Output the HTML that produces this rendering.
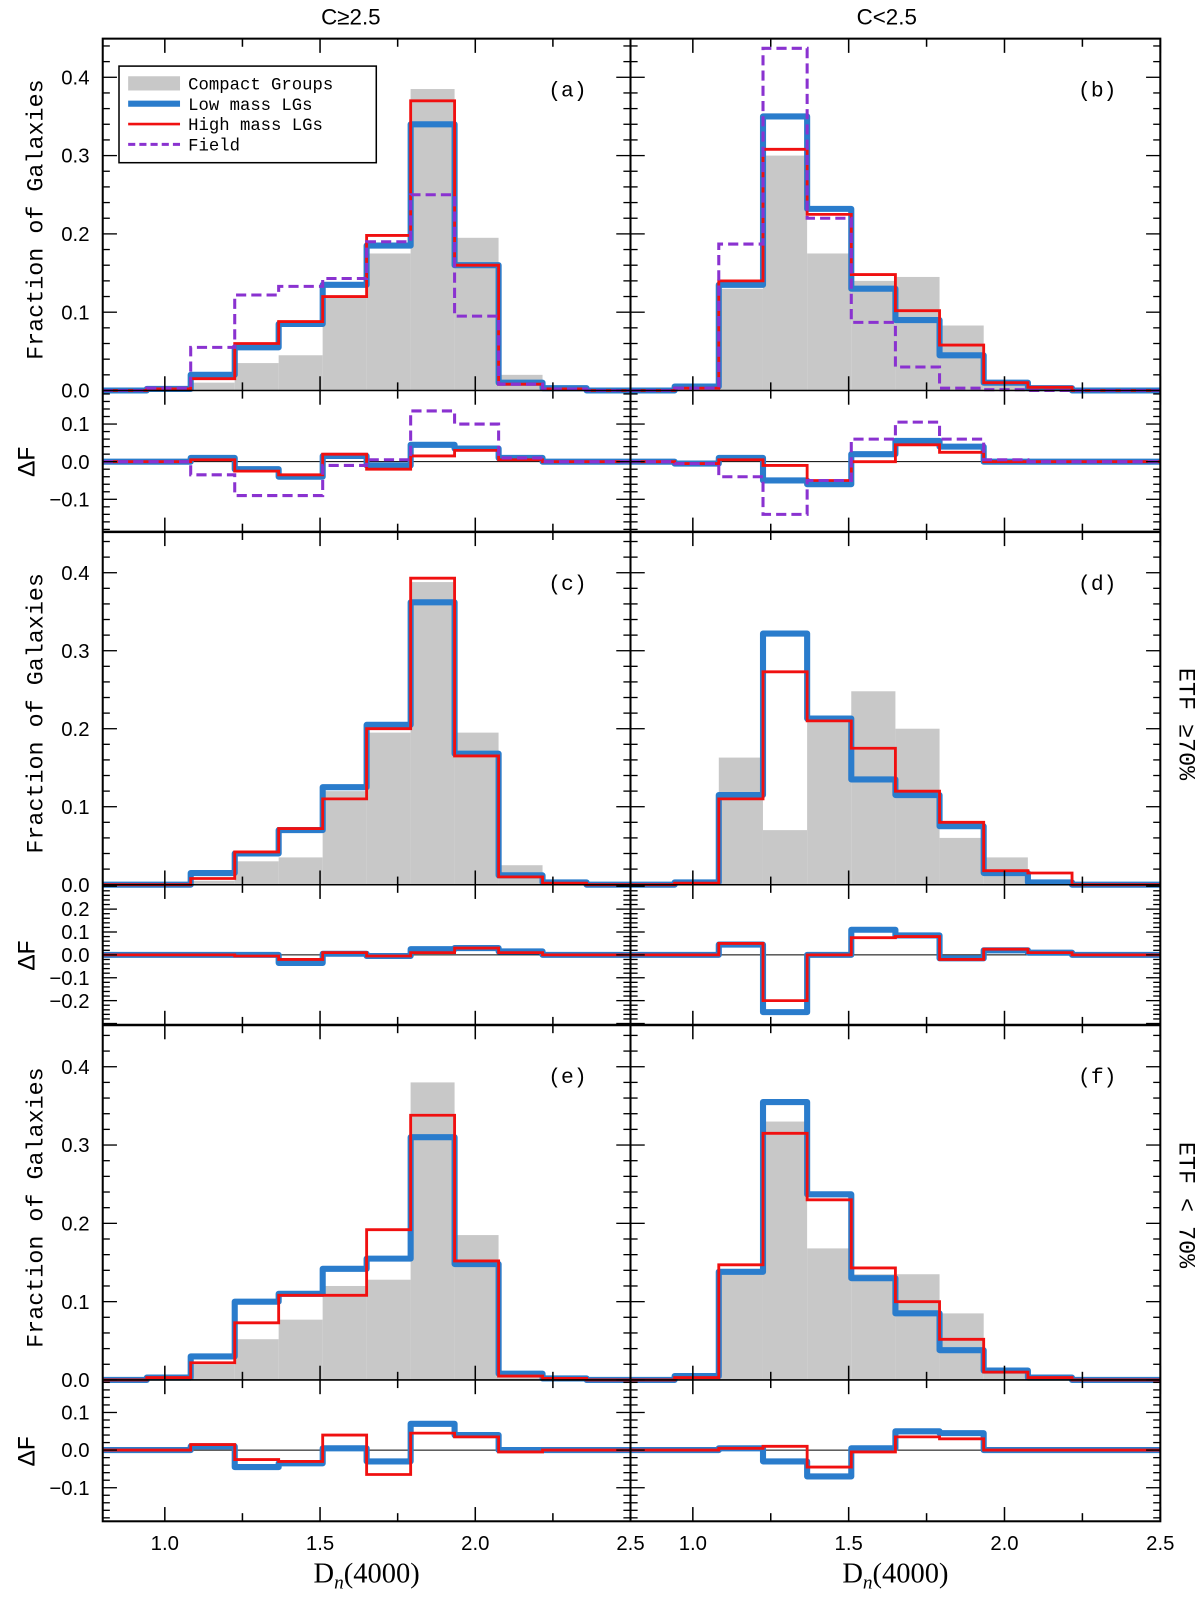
<!DOCTYPE html>
<html><head><meta charset="utf-8"><style>
body{margin:0;background:#fff}
svg text{font-family:"Liberation Sans","DejaVu Sans",sans-serif;fill:#000}
svg text.mono{font-family:"Liberation Mono","DejaVu Sans Mono",monospace}
svg text.serif{font-family:"Liberation Serif","DejaVu Serif",serif}
</style></head><body>
<svg id="fig" width="1200" height="1594" viewBox="0 0 1180 1567.5" xmlns="http://www.w3.org/2000/svg"></svg>
<script>
const binEdgesMin = 0.8, binEdgesMax = 2.5, nBins = 12;
// panel (a)
const aCG   = [0,0,0.01,0.035,0.045,0.12,0.175,0.385,0.195,0.02,0.003,0];
const aLow  = [0,0.002,0.02,0.055,0.085,0.135,0.185,0.34,0.16,0.01,0.003,0];
const aHigh = [0,0.002,0.015,0.06,0.088,0.12,0.198,0.37,0.16,0.008,0.002,0];
const aField= [0,0.003,0.055,0.122,0.133,0.143,0.19,0.25,0.095,0.008,0.002,0];
const aDLow = [0,0,0.01,-0.02,-0.04,0.015,-0.01,0.045,0.035,0.01,0,0];
const aDHigh= [0,0,0.005,-0.025,-0.035,0.02,-0.02,0.015,0.03,0.005,0,0];
const aDField=[0,0,-0.035,-0.09,-0.09,-0.01,0.005,0.135,0.1,0.01,0,0];
// panel (b)
const bCG   = [0,0,0.13,0.3,0.175,0.14,0.145,0.083,0.01,0.003,0,0];
const bLow  = [0,0.005,0.135,0.35,0.232,0.13,0.09,0.045,0.01,0.003,0,0];
const bHigh = [0,0.003,0.14,0.308,0.225,0.148,0.102,0.058,0.01,0.004,0,0];
const bField= [0,0.003,0.187,0.437,0.22,0.087,0.03,0.003,0.001,0,0,0];
const bDLow = [0,-0.005,0.01,-0.05,-0.06,0.02,0.055,0.04,0,0,0,0];
const bDHigh= [0,-0.005,0.005,-0.01,-0.05,0,0.045,0.025,0,0,0,0];
const bDField=[0,-0.005,-0.04,-0.14,-0.05,0.06,0.105,0.06,0.005,0,0,0];
// panel (c)
const cCG   = [0,0,0.005,0.03,0.035,0.12,0.195,0.388,0.195,0.025,0.003,0];
const cLow  = [0,0,0.015,0.04,0.07,0.125,0.205,0.362,0.168,0.012,0.003,0];
const cHigh = [0,0,0.008,0.042,0.072,0.11,0.2,0.393,0.165,0.01,0.002,0];
const cDLow = [0,0,0,0,-0.035,0.005,-0.005,0.025,0.03,0.015,0,0];
const cDHigh= [0,0,0,-0.005,-0.02,0.01,-0.005,0.01,0.03,0.01,0,0];
// panel (d)
const dCG   = [0,0,0.163,0.07,0.21,0.248,0.2,0.06,0.035,0.005,0,0];
const dLow  = [0,0.003,0.115,0.322,0.213,0.135,0.115,0.075,0.015,0.003,0,0];
const dHigh = [0,0.002,0.11,0.273,0.21,0.175,0.12,0.08,0.018,0.015,0,0];
const dDLow = [0,0,0.045,-0.25,0,0.11,0.085,-0.015,0.02,0.01,0,0];
const dDHigh= [0,0,0.05,-0.2,0,0.075,0.08,-0.02,0.025,0.01,0,0];
// panel (e)
const eCG   = [0,0,0.02,0.052,0.077,0.12,0.128,0.38,0.185,0.01,0.003,0];
const eLow  = [0,0.003,0.03,0.1,0.11,0.142,0.155,0.31,0.148,0.008,0.002,0];
const eHigh = [0,0.003,0.022,0.073,0.108,0.108,0.192,0.338,0.152,0.005,0.002,0];
const eDLow = [0,0,0.01,-0.045,-0.035,0.005,-0.03,0.07,0.04,0,0,0];
const eDHigh= [0,0,0.015,-0.025,-0.03,0.04,-0.065,0.045,0.035,-0.005,0,0];
// panel (f)
const fCG   = [0,0,0.14,0.33,0.168,0.135,0.135,0.085,0.01,0.003,0,0];
const fLow  = [0,0.005,0.138,0.355,0.237,0.13,0.085,0.038,0.012,0.003,0,0];
const fHigh = [0,0.003,0.147,0.315,0.23,0.143,0.1,0.052,0.01,0.003,0,0];
const fDLow = [0,0,0.005,-0.03,-0.07,0.005,0.05,0.045,0,0,0,0];
const fDHigh= [0,0,0.005,0.01,-0.045,-0.005,0.035,0.03,0,0,0,0];

const xTickLabels = ["1.0","1.5","2.0","2.5"];
const mainYTicks = ["0.0","0.1","0.2","0.3","0.4"];
const dYTicks1 = ["-0.1","0.0","0.1"];
const dYTicks2 = ["-0.2","-0.1","0.0","0.1","0.2"];

const NS="http://www.w3.org/2000/svg";
const svg=document.getElementById('fig');
function el(tag,attrs,parent){const e=document.createElementNS(NS,tag);for(const k in attrs)e.setAttribute(k,attrs[k]);(parent||svg).appendChild(e);return e;}

const cols=[{x0:101,x1:620},{x0:620,x1:1141}];
const rows=[
 {top:38,zero:384,ymax:(384-38)/770,dtop:384,dbot:523,dzero:454,dscale:370,dt:dYTicks1},
 {top:523,zero:870,ymax:(870-523)/767,dtop:870,dbot:1008,dzero:939,dscale:225,dt:dYTicks2},
 {top:1008,zero:1357,ymax:(1357-1008)/770,dtop:1357,dbot:1496,dzero:1426,dscale:370,dt:dYTicks1}
];
const panels=[
 {r:0,c:0,lab:"(a)",cg:aCG,lo:aLow,hi:aHigh,fi:aField,dlo:aDLow,dhi:aDHigh,dfi:aDField},
 {r:0,c:1,lab:"(b)",cg:bCG,lo:bLow,hi:bHigh,fi:bField,dlo:bDLow,dhi:bDHigh,dfi:bDField},
 {r:1,c:0,lab:"(c)",cg:cCG,lo:cLow,hi:cHigh,dlo:cDLow,dhi:cDHigh},
 {r:1,c:1,lab:"(d)",cg:dCG,lo:dLow,hi:dHigh,dlo:dDLow,dhi:dDHigh},
 {r:2,c:0,lab:"(e)",cg:eCG,lo:eLow,hi:eHigh,dlo:eDLow,dhi:eDHigh},
 {r:2,c:1,lab:"(f)",cg:fCG,lo:fLow,hi:fHigh,dlo:fDLow,dhi:fDHigh}
];
const bw=(binEdgesMax-binEdgesMin)/nBins;
function stepPath(vals,xs,ys){
  let d="";
  vals.forEach((v,i)=>{const xa=xs(binEdgesMin+i*bw),xb=xs(binEdgesMin+(i+1)*bw),y=ys(v);
    d+=(i==0?"M":"L")+xa.toFixed(1)+","+y.toFixed(1)+"L"+xb.toFixed(1)+","+y.toFixed(1);});
  return d;
}
function drawSeries(g,vals,xs,ys,style,name){
  const p=el('path',Object.assign({d:stepPath(vals,xs,ys),fill:'none'},style),g);
  
  
}
function ticksX(g,xs,yTop,yBot){
  for(let k=1;k<=7;k++){const v=0.75+k*0.25;const x=xs(v);
    const major=(k%2==1);const L=major?14:8;
    el('line',{x1:x,x2:x,y1:yBot,y2:yBot-L,stroke:'#000','stroke-width':1.5},g);
    el('line',{x1:x,x2:x,y1:yTop,y2:yTop+L,stroke:'#000','stroke-width':1.5},g);}
}
function ticksY(g,x0,x1,ys,vmin,vmax,minor,major){
  const n0=Math.ceil(vmin/minor-1e-6),n1=Math.floor(vmax/minor+1e-6);
  for(let k=n0;k<=n1;k++){const v=k*minor;const y=ys(v);
    const isMaj=Math.abs(v/major-Math.round(v/major))<1e-6;const L=isMaj?14:7;
    el('line',{x1:x0,x2:x0+L,y1:y,y2:y,stroke:'#000','stroke-width':1.3},g);
    el('line',{x1:x1,x2:x1-L,y1:y,y2:y,stroke:'#000','stroke-width':1.3},g);}
}
const BLUE='#2a7ccc',RED='#f01010',PURP='#8a32d0',GRAY='#c8c8c8';
panels.forEach(p=>{
  const R=rows[p.r],C=cols[p.c];
  const xs=v=>C.x0+(v-0.8)/(2.5-0.8)*(C.x1-C.x0);
  const ys=v=>R.zero-(v/R.ymax)*(R.zero-R.top);
  const g=el('g',{});
  
  
  p.cg.forEach((v,i)=>{const xa=xs(binEdgesMin+i*bw),xb=xs(binEdgesMin+(i+1)*bw);
    const r=el('rect',{x:xa,y:ys(v),width:xb-xa,height:R.zero-ys(v),fill:GRAY},g);
    
    });
  drawSeries(g,p.lo,xs,ys,{stroke:BLUE,'stroke-width':6,'stroke-linejoin':'round'},'low-mass-line');
  drawSeries(g,p.hi,xs,ys,{stroke:RED,'stroke-width':2.8},'high-mass-line');
  if(p.fi)drawSeries(g,p.fi,xs,ys,{stroke:PURP,'stroke-width':3,'stroke-dasharray':'10,5'},'field-line');
  ticksY(g,C.x0,C.x1,ys,0,R.ymax,0.02,0.1);
  ticksX(g,xs,R.top,R.zero);
  const t=el('text',{x:C.x1-62,y:R.top+57,'font-size':21,'text-anchor':'middle','class':'mono'},g);t.textContent=p.lab;
  
  if(p.c==0){mainYTicks.forEach(s=>{const v=parseFloat(s);const tt=el('text',{x:88,y:ys(v)+7,'font-size':20,'text-anchor':'end'},svg);tt.textContent=s;
    });
    const cy=(R.top+R.zero)/2+5;
    const yt=el('text',{x:42,y:cy,'font-size':23,'text-anchor':'middle','class':'mono',transform:`rotate(-90 42 ${cy})`},svg);
    yt.textContent="Fraction of Galaxies";}
  const dys=v=>R.dzero-v*R.dscale;
  const dg=el('g',{});
  
  
  el('line',{x1:C.x0,x2:C.x1,y1:R.dzero,y2:R.dzero,stroke:'#000','stroke-width':1},dg);
  drawSeries(dg,p.dlo,xs,dys,{stroke:BLUE,'stroke-width':6,'stroke-linejoin':'round'},'delta-low-mass-line');
  drawSeries(dg,p.dhi,xs,dys,{stroke:RED,'stroke-width':2.8},'delta-high-mass-line');
  if(p.dfi)drawSeries(dg,p.dfi,xs,dys,{stroke:PURP,'stroke-width':3,'stroke-dasharray':'10,5'},'delta-field-line');
  const dmax=(R.dzero-R.dtop)/R.dscale,dmin=-(R.dbot-R.dzero)/R.dscale;
  ticksY(dg,C.x0,C.x1,dys,dmin,dmax,0.02,0.1);
  ticksX(dg,xs,R.dtop,R.dbot);
  if(p.c==0){R.dt.forEach(s=>{const v=parseFloat(s);const tt=el('text',{x:88,y:dys(v)+7,'font-size':20,'text-anchor':'end'},svg);tt.textContent=s.replace('-','\u2212');
    });
    const dy=(R.dtop+R.dbot)/2;
    const yt=el('text',{x:34,y:dy,'font-size':25,'text-anchor':'middle','class':'mono',transform:`rotate(-90 34 ${dy})`},svg);
    yt.textContent="\u0394F";}
  if(p.r==2){xTickLabels.forEach(s=>{const v=parseFloat(s);const tt=el('text',{x:xs(v),y:1524,'font-size':20,'text-anchor':'middle'},svg);tt.textContent=s;
    });
    const xt=el('text',{x:(C.x0+C.x1)/2,y:1556,'font-size':28,'text-anchor':'middle','class':'serif'},svg);
    xt.innerHTML='D<tspan font-style="italic" font-size="19" dy="6">n</tspan><tspan dy="-6">(4000)</tspan>';
    }
});
el('rect',{x:101,y:38,width:1040,height:1458,fill:'none',stroke:'#000','stroke-width':2});
el('line',{x1:620,x2:620,y1:38,y2:1496,stroke:'#000','stroke-width':2});
[384,523,870,1008,1357].forEach(y=>el('line',{x1:101,x2:1141,y1:y,y2:y,stroke:'#000','stroke-width':(y==523||y==1008)?2.5:1.5}));
[["C\u22652.5",345],["C<2.5",872]].forEach(a=>{const t=el('text',{x:a[1],y:24,'font-size':22,'text-anchor':'middle'});t.textContent=a[0];
  });
[["ETF \u226570%",712],["ETF < 70%",1185]].forEach(a=>{const t=el('text',{x:1160,y:a[1],'font-size':23,'text-anchor':'middle','class':'mono',transform:`rotate(90 1160 ${a[1]})`});t.textContent=a[0];
  });
const lg=el('g',{});
el('rect',{x:117,y:65,width:253,height:95,fill:'#fff',stroke:'#000','stroke-width':1.5},lg);
const legItems=[["Compact Groups",'cg'],["Low mass LGs",'lo'],["High mass LGs",'hi'],["Field",'fi']];
legItems.forEach((it,i)=>{const y=82+i*20;
  if(it[1]=='cg')el('rect',{x:126,y:y-7,width:51,height:14,fill:GRAY},lg);
  if(it[1]=='lo')el('line',{x1:126,x2:177,y1:y,y2:y,stroke:BLUE,'stroke-width':6},lg);
  if(it[1]=='hi')el('line',{x1:126,x2:177,y1:y,y2:y,stroke:RED,'stroke-width':2.5},lg);
  if(it[1]=='fi')el('line',{x1:126,x2:177,y1:y,y2:y,stroke:PURP,'stroke-width':3,'stroke-dasharray':'7,4'},lg);
  const t=el('text',{x:185,y:y+6,'font-size':17,'class':'mono'},lg);t.textContent=it[0];
  });
</script>
</body></html>
